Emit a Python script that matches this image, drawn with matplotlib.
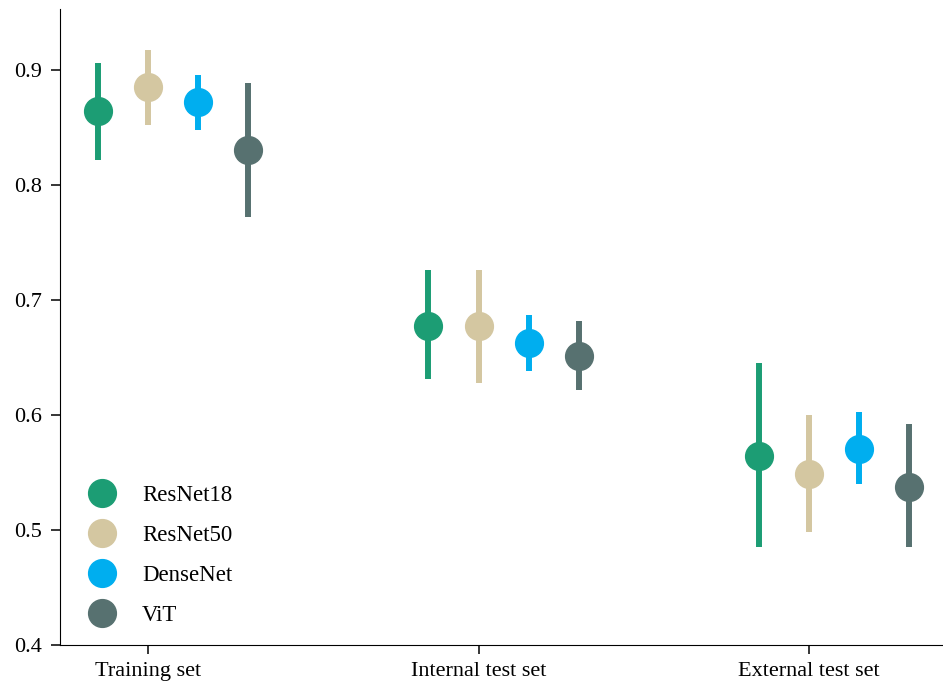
import numpy as np
import matplotlib.pyplot as plt
import matplotlib as mpl

mpl.rcParams['font.family'] = ['Liberation Serif', 'DejaVu Serif']

groups = ['Training set', 'Internal test set', 'External test set']
models = ['ResNet18', 'ResNet50', 'DenseNet', 'ViT']
colors = ['#1c9d74', '#d4c7a1', '#00aeef', '#577170']

# mean and confidence interval per model, per group
means = {
    'ResNet18': [0.864, 0.677, 0.564],
    'ResNet50': [0.885, 0.677, 0.549],
    'DenseNet': [0.872, 0.663, 0.570],
    'ViT':      [0.830, 0.651, 0.537],
}
lows = {
    'ResNet18': [0.822, 0.631, 0.485],
    'ResNet50': [0.852, 0.628, 0.498],
    'DenseNet': [0.848, 0.638, 0.540],
    'ViT':      [0.772, 0.622, 0.485],
}
highs = {
    'ResNet18': [0.906, 0.726, 0.645],
    'ResNet50': [0.917, 0.726, 0.600],
    'DenseNet': [0.896, 0.687, 0.603],
    'ViT':      [0.889, 0.682, 0.592],
}

offsets = [-0.152, 0.0, 0.152, 0.303]

fig = plt.figure(figsize=(9.43, 6.91), dpi=100)
ax = fig.add_axes([0.0636, 0.0666, 0.9364, 0.9204])

x = np.arange(len(groups))
for m, c, off in zip(models, colors, offsets):
    mu = np.array(means[m])
    lo = np.array(lows[m])
    hi = np.array(highs[m])
    ax.vlines(x + off, lo, hi, color=c, lw=4.3, zorder=2)
    ax.plot(x + off, mu, 'o', color=c, ms=20, ls='none', label=m, zorder=3)

ax.set_xlim(-0.267, 2.406)
ax.set_ylim(0.4, 0.953)
ax.set_xticks(x)
ax.set_xticklabels(groups)
ax.set_yticks([0.4, 0.5, 0.6, 0.7, 0.8, 0.9])
ax.tick_params(labelsize=16, length=6.5, width=1.1)
ax.tick_params(axis='x', pad=5.5)
ax.tick_params(axis='y', pad=6.5)
ax.spines['top'].set_visible(False)
ax.spines['right'].set_visible(False)

ax.legend(loc='upper left', frameon=False, fontsize=16.5, markerscale=1.0,
          handletextpad=0.75, labelspacing=0.83, borderpad=0, borderaxespad=0,
          bbox_to_anchor=(0.0215, 0.252))

fig.savefig('out.png', dpi=100)
